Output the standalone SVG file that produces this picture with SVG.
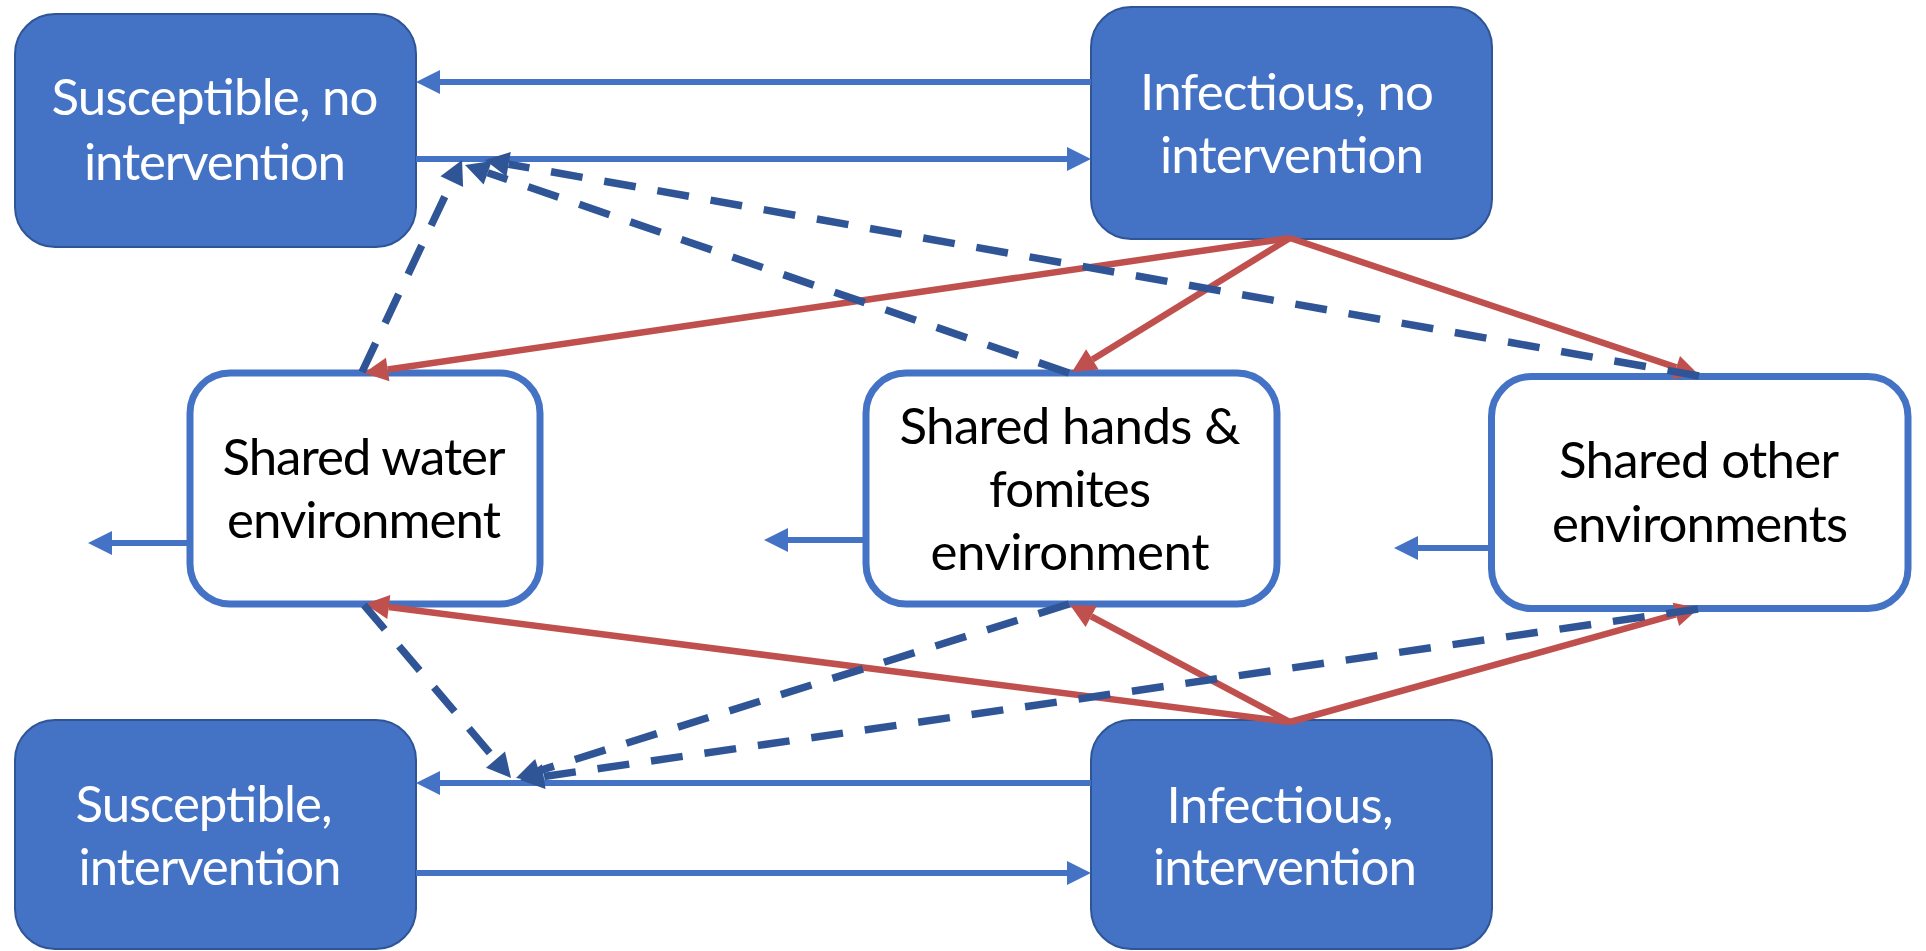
<svg xmlns="http://www.w3.org/2000/svg" width="1926" height="951" viewBox="0 0 1926 951">
<style>
.sn{fill:#4472C4;stroke:#2F5597;stroke-width:2}
.en{fill:#FFFFFF;stroke:#4472C4;stroke-width:7}
.t{font-family:Lato,"Liberation Sans",sans-serif;font-size:51px;text-anchor:middle}
.tw{fill:#FFFFFF}
.tb{fill:#000000}
.sb{stroke:#4472C4;stroke-width:6;fill:none;marker-end:url(#ab)}
.rd{stroke:#C0504D;stroke-width:6.5;fill:none;marker-end:url(#ar)}
.dd{stroke:#2F5597;stroke-width:7.5;fill:none;stroke-dasharray:32 22;marker-end:url(#ad)}
</style>
<defs>
<marker id="ab" markerUnits="userSpaceOnUse" markerWidth="26" markerHeight="26" refX="0" refY="12" orient="auto" overflow="visible"><path d="M0,0 L24,12 L0,24 z" fill="#4472C4"/></marker>
<marker id="ar" markerUnits="userSpaceOnUse" markerWidth="26" markerHeight="26" refX="0" refY="12" orient="auto" overflow="visible"><path d="M0,0 L24,12 L0,24 z" fill="#C0504D"/></marker>
<marker id="ad" markerUnits="userSpaceOnUse" markerWidth="26" markerHeight="26" refX="0" refY="12.5" orient="auto" overflow="visible"><path d="M0,0 L24,12.5 L0,25 z" fill="#2F5597"/></marker>
</defs>
<rect width="1926" height="951" fill="#FFFFFF"/>
<g id="susceptible-no-intervention">
<rect class="sn" x="15" y="14" width="401" height="233" rx="40"/>
<text class="t tw" x="215" y="115" textLength="327">Susceptible, no</text>
<text class="t tw" x="215" y="180" textLength="262">intervention</text>
</g>
<g id="infectious-no-intervention">
<rect class="sn" x="1091" y="7" width="401" height="232" rx="40"/>
<text class="t tw" x="1287" y="110" textLength="294">Infectious, no</text>
<text class="t tw" x="1292" y="173" textLength="264">intervention</text>
</g>
<g id="susceptible-intervention">
<rect class="sn" x="15" y="720" width="401" height="229" rx="40"/>
<text class="t tw" x="204" y="822" textLength="257">Susceptible,</text>
<text class="t tw" x="210" y="885" textLength="263">intervention</text>
</g>
<g id="infectious-intervention">
<rect class="sn" x="1091" y="720" width="401" height="229" rx="40"/>
<text class="t tw" x="1280" y="823" textLength="227">Infectious,</text>
<text class="t tw" x="1285" y="885" textLength="264">intervention</text>
</g>
<g id="shared-water">
<rect class="en" x="190" y="373" width="350" height="231" rx="40"/>
<text class="t tb" x="364" y="475" textLength="283">Shared water</text>
<text class="t tb" x="364" y="538" textLength="274">environment</text>
</g>
<g id="shared-hands-fomites">
<rect class="en" x="866" y="373" width="411" height="231" rx="40"/>
<text class="t tb" x="1070" y="444" textLength="341">Shared hands &amp;</text>
<text class="t tb" x="1070" y="507" textLength="162">fomites</text>
<text class="t tb" x="1070" y="570" textLength="279">environment</text>
</g>
<g id="shared-other">
<rect class="en" x="1491.5" y="376.5" width="416.5" height="232" rx="40"/>
<text class="t tb" x="1699" y="478" textLength="280">Shared other</text>
<text class="t tb" x="1700" y="542" textLength="296">environments</text>
</g>
<g id="connectors">
<line class="sb" x1="1091" y1="82" x2="440" y2="82"/>
<line class="sb" x1="416" y1="159" x2="1067" y2="159"/>
<line class="sb" x1="1091" y1="783" x2="440" y2="783"/>
<line class="sb" x1="416" y1="873" x2="1067" y2="873"/>
<line class="sb" x1="190" y1="543" x2="112" y2="543"/>
<line class="sb" x1="866" y1="540" x2="788" y2="540"/>
<line class="sb" x1="1491" y1="548" x2="1418" y2="548"/>
<line class="rd" x1="1290" y1="238" x2="387.7" y2="369.5"/>
<line class="rd" x1="1290" y1="238" x2="1092.4" y2="359.4"/>
<line class="rd" x1="1290" y1="238" x2="1676.2" y2="367.4"/>
<line class="rd" x1="1290" y1="722" x2="388.8" y2="607"/>
<line class="rd" x1="1290" y1="722" x2="1091.2" y2="616.3"/>
<line class="rd" x1="1290" y1="722" x2="1675.9" y2="614.4"/>
<line class="dd" x1="362" y1="372" x2="451.8" y2="181.7"/>
<line class="dd" x1="1069" y1="373" x2="487.7" y2="172.8"/>
<line class="dd" x1="1699" y1="376" x2="508.6" y2="164.2"/>
<line class="dd" x1="364" y1="605" x2="495.5" y2="759.7"/>
<line class="dd" x1="1069" y1="604" x2="538.9" y2="770.8"/>
<line class="dd" x1="1698" y1="609" x2="543.75" y2="776.55"/>
</g>
</svg>
